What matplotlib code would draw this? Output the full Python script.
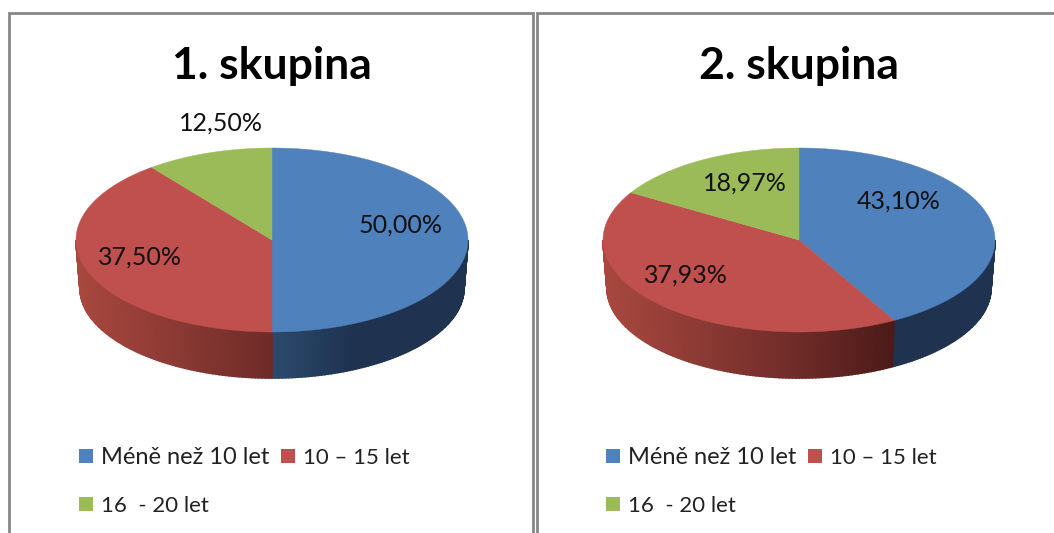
import numpy as np
import matplotlib
matplotlib.use("Agg")
import matplotlib.pyplot as plt
from matplotlib.patches import Polygon, Rectangle
from matplotlib.colors import to_rgb

plt.rcParams['font.family'] = ['Lato', 'DejaVu Sans']

titles = ["1. skupina", "2. skupina"]
categories = ["Méně než 10 let", "10 – 15 let", "16  - 20 let"]
group1 = [50.00, 37.50, 12.50]
group2 = [43.10, 37.93, 18.97]
label1 = ["50,00%", "37,50%", "12,50%"]
label2 = ["43,10%", "37,93%", "18,97%"]
colors = ["#4f81bd", "#c0504d", "#9bbb59"]

W, H = 1054, 533
fig = plt.figure(figsize=(W / 100, H / 100), dpi=100)
ax = fig.add_axes([0, 0, 1, 1])
ax.set_xlim(0, W)
ax.set_ylim(H, 0)
ax.axis("off")


def project(a):
    """Perspective: true clockwise angle from the top to ellipse parameter."""
    return a - 10 * np.sin(np.radians(a))


def ell(cx, cy, rx, ry, p):
    r = np.radians(p)
    return cx + rx * np.sin(r), cy - ry * np.cos(r)


def mix(stops, t):
    t = np.clip(t, 0, 1)
    xs = [s[0] for s in stops]
    cols = np.array([to_rgb(s[1]) for s in stops])
    return tuple(np.interp(t, xs, cols[:, i]) for i in range(3))


side_red = [(0, "#a8483f"), (0.5, "#6e2b28"), (0.75, "#4a1a18"), (1, "#3a1412")]
side_blue = [(0, "#2c4a6e"), (0.5, "#2c4a6e"), (0.7, "#1f3350"), (1, "#1f3350")]
side_green = [(0, "#7d9645"), (1, "#5c6e33")]
side_stops = [side_blue, side_red, side_green]


def draw_pie(cx, values, labels, label_pos, title):
    cy, rx, ry = 240, 196, 92
    by, brx, bry = 288, 192, 90
    edges = np.concatenate([[0], np.cumsum(values) / np.sum(values) * 360])
    pedges = project(edges)

    # side wall
    for i, stops in enumerate(side_stops):
        p0 = max(pedges[i], 90)
        p1 = min(pedges[i + 1], 270)
        if p1 <= p0:
            continue
        ps = np.arange(p0, p1 + 0.01, 1.0)
        if ps[-1] < p1:
            ps = np.append(ps, p1)
        for a, b in zip(ps[:-1], ps[1:]):
            xa, ya = ell(cx, cy, rx, ry, a)
            xb, yb = ell(cx, cy, rx, ry, b)
            xa2, ya2 = ell(cx, by, brx, bry, a)
            xb2, yb2 = ell(cx, by, brx, bry, b)
            t = (0.5 * (xa + xb) - (cx - rx)) / (2 * rx)
            c = mix(stops, t)
            ax.add_patch(Polygon([(xa, ya), (xb, yb), (xb2, yb2), (xa2, ya2)],
                                 closed=True, facecolor=c, edgecolor=c, linewidth=1.2, zorder=2))

    # top face
    for i, col in enumerate(colors):
        ps = np.linspace(pedges[i], pedges[i + 1], 180)
        xs, ys = ell(cx, cy, rx, ry, ps)
        pts = np.column_stack([np.r_[cx, xs], np.r_[cy, ys]])
        ax.add_patch(Polygon(pts, closed=True, facecolor=col, edgecolor=col, linewidth=0.3, zorder=3))

    for txt, (x, y) in zip(labels, label_pos):
        ax.text(x, y + 1, txt, ha="center", va="center", fontsize=18, color="#111111", zorder=5)

    ax.text(cx, 66, title, ha="center", va="center", fontsize=32, fontweight="bold", color="black", zorder=5)

    # legend
    ox = cx - 272
    leg = [(79, 456, 101, 17), (281, 456, 303, 16), (79, 504, 101, 16)]
    for (sx, sy, tx, fs), name, col in zip(leg, categories, colors):
        ax.add_patch(Rectangle((ox + sx, sy - 7), 14, 14, facecolor=col, edgecolor="none", zorder=4))
        ax.text(ox + tx, sy + 1.5, name, ha="left", va="center", fontsize=fs, color="#222222", zorder=5)


draw_pie(272, group1, label1, [(401, 224), (140, 256), (221, 122)], titles[0])
draw_pie(799, group2, label2, [(899, 200), (686, 274), (745, 182)], titles[1])

# chart frames
frame = "#868686"
ax.plot([9, 9, 532.5, 532.5], [H, 13, 13, H], color=frame, lw=2.0, solid_joinstyle="miter", zorder=6)
ax.plot([537, 537, W + 5], [H, 13, 13], color=frame, lw=2.0, solid_joinstyle="miter", zorder=6)

fig.savefig("out.png", dpi=100, facecolor="white")
